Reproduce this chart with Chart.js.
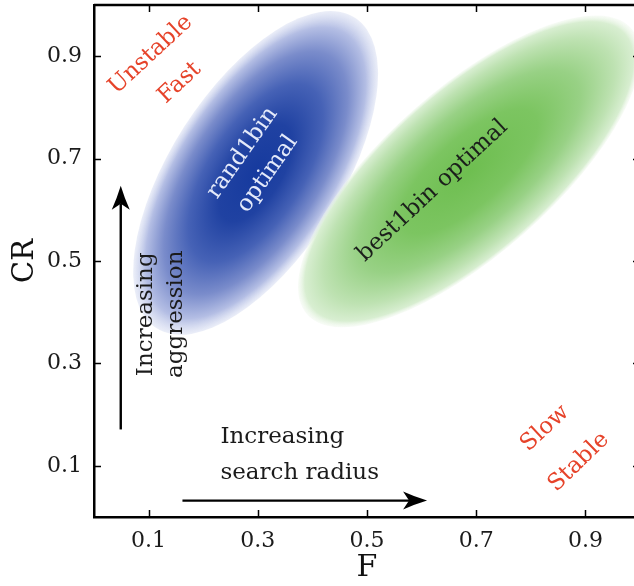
<!DOCTYPE html>
<html>
<head>
<meta charset="utf-8">
<script src="https://cdn.jsdelivr.net/npm/chart.js@4/dist/chart.umd.min.js"></script>
<style>
  html, body { margin: 0; padding: 0; overflow: hidden; background: #fff; }
  canvas { display: block; }
</style>
</head>
<body>
<canvas id="chart" width="650" height="586"></canvas>
<script>
// Axis ticks
const xTicks = [0.1, 0.3, 0.5, 0.7, 0.9];
const yTicks = [0.1, 0.3, 0.5, 0.7, 0.9];

// Optimal (F, CR) regions: centre plus major / minor half-axes, in data units
const regionNames    = ['rand1bin', 'best1bin'];
const regionCentreF  = [0.296, 0.687];
const regionCentreCR = [0.672, 0.675];
const regionMajorF   = [0.182, 0.297];
const regionMajorCR  = [0.303, 0.279];
const regionMinorF   = [0.131, 0.100];
const regionMinorCR  = [-0.090, -0.122];

// Trend arrows: start and end points in (F, CR)
const arrowFromF  = [0.049, 0.162];
const arrowFromCR = [0.171, 0.032];
const arrowToF    = [0.049, 0.610];
const arrowToCR   = [0.647, 0.032];

const SERIF = '"DejaVu Serif", "Liberation Serif", serif';

const regionFills = {
  rand1bin: [
    [0.00, 'rgb(22,58,158)'],
    [0.30, 'rgb(32,66,162)'],
    [0.55, 'rgb(70,98,182)'],
    [0.75, 'rgb(122,140,203)'],
    [0.90, 'rgb(180,190,228)'],
    [1.00, 'rgba(222,227,244,0.6)']
  ],
  best1bin: [
    [0.00, 'rgb(110,190,80)'],
    [0.40, 'rgb(124,197,97)'],
    [0.65, 'rgb(152,209,133)'],
    [0.85, 'rgb(190,226,178)'],
    [0.96, 'rgb(216,238,209)'],
    [1.00, 'rgba(238,247,235,0.4)']
  ]
};

// Text annotations placed in data coordinates (angle in degrees, counter-clockwise)
const notes = [
  { text: 'Unstable', f: 0.104, cr: 0.903, angle: 43, color: '#e6432a' },
  { text: 'Fast',     f: 0.157, cr: 0.848, angle: 43, color: '#e6432a' },
  { text: 'Slow',     f: 0.826, cr: 0.173, angle: 43, color: '#e6432a' },
  { text: 'Stable',   f: 0.888, cr: 0.107, angle: 44, color: '#e6432a' },
  { text: 'rand1bin', f: 0.272, cr: 0.711, angle: 55, color: 'rgb(228,234,250)' },
  { text: 'optimal',  f: 0.318, cr: 0.670, angle: 55, color: 'rgb(228,234,250)' },
  { text: 'best1bin optimal', f: 0.620, cr: 0.637, angle: 43, color: '#1b1f1b' }
];

// Multi-line arrow captions, anchored at the first baseline
const captions = [
  { lines: ['Increasing', 'aggression'], f: 0.107, cr: 0.396, vertical: true, step: 29.5 },
  { lines: ['Increasing', 'search radius'], f: 0.2316, cr: 0.144, vertical: false, step: 36 }
];

const regionsPlugin = {
  id: 'regions',
  beforeDatasetsDraw(chart) {
    const { ctx, chartArea: a, scales: { x, y } } = chart;
    ctx.save();
    ctx.beginPath();
    ctx.rect(a.left, a.top, a.right - a.left, a.bottom - a.top);
    ctx.clip();
    regionNames.forEach((name, i) => {
      const cx = x.getPixelForValue(regionCentreF[i]);
      const cy = y.getPixelForValue(regionCentreCR[i]);
      const ax = x.getPixelForValue(regionCentreF[i] + regionMajorF[i]) - cx;
      const ay = y.getPixelForValue(regionCentreCR[i] + regionMajorCR[i]) - cy;
      const bx = x.getPixelForValue(regionCentreF[i] + regionMinorF[i]) - cx;
      const by = y.getPixelForValue(regionCentreCR[i] + regionMinorCR[i]) - cy;
      ctx.save();
      ctx.transform(ax, ay, bx, by, cx, cy);
      const g = ctx.createRadialGradient(0, 0, 0, 0, 0, 1);
      regionFills[name].forEach(([o, c]) => g.addColorStop(o, c));
      ctx.fillStyle = g;
      ctx.beginPath();
      ctx.arc(0, 0, 1, 0, Math.PI * 2);
      ctx.fill();
      ctx.restore();
    });
    ctx.restore();
  }
};

function drawArrow(ctx, x0, y0, x1, y1) {
  const ang = Math.atan2(y1 - y0, x1 - x0);
  const len = 24, half = 9, notch = 6;
  ctx.save();
  ctx.strokeStyle = '#000';
  ctx.fillStyle = '#000';
  ctx.lineWidth = 2.4;
  ctx.beginPath();
  ctx.moveTo(x0, y0);
  ctx.lineTo(x1 - Math.cos(ang) * (len - notch), y1 - Math.sin(ang) * (len - notch));
  ctx.stroke();
  ctx.translate(x1, y1);
  ctx.rotate(ang);
  ctx.beginPath();
  ctx.moveTo(0, 0);
  ctx.quadraticCurveTo(-len * 0.55, -half * 0.45, -len, -half);
  ctx.lineTo(-len + notch, 0);
  ctx.lineTo(-len, half);
  ctx.quadraticCurveTo(-len * 0.55, half * 0.45, 0, 0);
  ctx.fill();
  ctx.restore();
}

const notesPlugin = {
  id: 'notes',
  afterDatasetsDraw(chart) {
    const { ctx, scales: { x, y } } = chart;
    ctx.save();
    ctx.font = '23px ' + SERIF;
    ctx.textAlign = 'center';
    ctx.textBaseline = 'middle';
    notes.forEach(n => {
      ctx.save();
      ctx.translate(x.getPixelForValue(n.f), y.getPixelForValue(n.cr));
      ctx.rotate(-n.angle * Math.PI / 180);
      ctx.fillStyle = n.color;
      ctx.fillText(n.text, 0, 0);
      ctx.restore();
    });

    arrowFromF.forEach((f, i) => {
      drawArrow(ctx,
        x.getPixelForValue(f), y.getPixelForValue(arrowFromCR[i]),
        x.getPixelForValue(arrowToF[i]), y.getPixelForValue(arrowToCR[i]));
    });

    ctx.font = '23px ' + SERIF;
    ctx.fillStyle = '#1b1b1b';
    ctx.textBaseline = 'alphabetic';
    captions.forEach(c => {
      ctx.save();
      ctx.translate(x.getPixelForValue(c.f), y.getPixelForValue(c.cr));
      if (c.vertical) {
        ctx.rotate(-Math.PI / 2);
        ctx.textAlign = 'center';
      } else {
        ctx.textAlign = 'left';
      }
      c.lines.forEach((line, k) => ctx.fillText(line, 0, k * c.step));
      ctx.restore();
    });
    ctx.restore();
  }
};

// Closed frame with inward tick marks on all four sides
const framePlugin = {
  id: 'frame',
  afterDraw(chart) {
    const { ctx, chartArea: a, scales: { x, y } } = chart;
    ctx.save();
    ctx.strokeStyle = '#000';
    ctx.lineWidth = 2.5;
    ctx.beginPath();
    ctx.moveTo(a.left, a.top);
    ctx.lineTo(a.right, a.top);
    ctx.lineTo(a.right, a.bottom);
    ctx.stroke();
    ctx.lineWidth = 1.5;
    ctx.beginPath();
    const t = 7;
    xTicks.forEach(v => {
      const px = Math.round(x.getPixelForValue(v)) + 0.5;
      ctx.moveTo(px, a.bottom); ctx.lineTo(px, a.bottom - t);
      ctx.moveTo(px, a.top); ctx.lineTo(px, a.top + t);
    });
    yTicks.forEach(v => {
      const py = Math.round(y.getPixelForValue(v)) + 0.5;
      ctx.moveTo(a.left, py); ctx.lineTo(a.left + t, py);
      ctx.moveTo(a.right, py); ctx.lineTo(a.right - t, py);
    });
    ctx.stroke();
    ctx.restore();
  }
};

new Chart(document.getElementById('chart'), {
  type: 'scatter',
  data: {
    datasets: [{
      label: 'region centres',
      data: regionCentreF.map((f, i) => ({ x: f, y: regionCentreCR[i] })),
      pointRadius: 0,
      pointHoverRadius: 0
    }]
  },
  options: {
    responsive: false,
    animation: false,
    events: [],
    layout: { padding: { left: 0, right: 10, top: 5, bottom: 0 } },
    plugins: { legend: { display: false }, tooltip: { enabled: false } },
    scales: {
      x: {
        type: 'linear', min: 0, max: 1,
        afterBuildTicks: s => { s.ticks = xTicks.map(v => ({ value: v })); },
        afterFit: s => { s.height = 69; s.paddingLeft = 0; s.paddingRight = 0; },
        grid: { display: false, drawTicks: false },
        border: { display: true, color: '#000', width: 2.5 },
        ticks: {
          padding: 11,
          color: '#1b1b1b',
          font: { family: SERIF, size: 22 },
          callback: v => v.toFixed(1)
        },
        title: {
          display: true, text: 'F', color: '#111',
          font: { family: SERIF, size: 30 },
          padding: { top: 0, bottom: 0 }
        }
      },
      y: {
        type: 'linear', min: 0, max: 1,
        afterBuildTicks: s => { s.ticks = yTicks.map(v => ({ value: v })); },
        afterFit: s => { s.width = 94; s.paddingTop = 0; s.paddingBottom = 0; },
        grid: { display: false, drawTicks: false },
        border: { display: true, color: '#000', width: 2.5 },
        ticks: {
          padding: 12,
          color: '#1b1b1b',
          font: { family: SERIF, size: 22 },
          callback: v => v.toFixed(1)
        },
        title: {
          display: true, text: 'CR', color: '#111',
          font: { family: SERIF, size: 29 },
          padding: { top: 8, bottom: 0 }
        }
      }
    }
  },
  plugins: [regionsPlugin, notesPlugin, framePlugin]
});
</script>
</body>
</html>
